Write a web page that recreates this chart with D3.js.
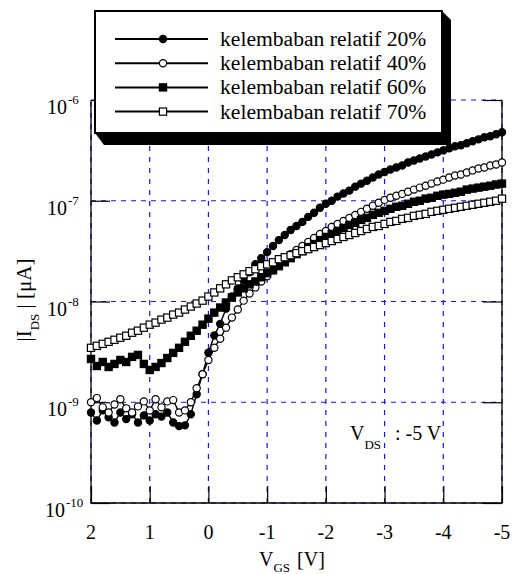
<!DOCTYPE html>
<html>
<head>
<meta charset="utf-8">
<script src="https://cdn.jsdelivr.net/npm/d3@7"></script>
<style>
  body { margin: 0; background: #fff; }
  svg text { font-family: "Liberation Serif", "Times New Roman", serif; }
</style>
</head>
<body>
<div class="chart"></div>
<script>
// gate voltage, 0.1 V steps from +2 to -5
var vgs = [2.0, 1.9, 1.8, 1.7, 1.6, 1.5, 1.4, 1.3, 1.2, 1.1, 1.0, 0.9, 0.8, 0.7, 0.6, 0.5, 0.4, 0.3, 0.2, 0.1,
    0.0, -0.1, -0.2, -0.3, -0.4, -0.5, -0.6, -0.7, -0.8, -0.9, -1.0, -1.1, -1.2, -1.3, -1.4, -1.5, -1.6, -1.7, -1.8, -1.9,
    -2.0, -2.1, -2.2, -2.3, -2.4, -2.5, -2.6, -2.7, -2.8, -2.9, -3.0, -3.1, -3.2, -3.3, -3.4, -3.5, -3.6, -3.7, -3.8, -3.9,
    -4.0, -4.1, -4.2, -4.3, -4.4, -4.5, -4.6, -4.7, -4.8, -4.9, -5.0];

var rh20 = [7.9e-10, 6.6e-10, 8.3e-10, 7.1e-10, 6.3e-10, 7.9e-10, 6.8e-10, 7.6e-10, 6.3e-10, 7.4e-10,
    6.6e-10, 7.6e-10, 7.2e-10, 7.9e-10, 6.3e-10, 5.8e-10, 5.9e-10, 7.6e-10, 1.2e-9, 1.9e-9,
    3.1e-9, 4.6e-9, 6.0e-9, 8.5e-9, 1.12e-8, 1.35e-8, 1.62e-8, 1.95e-8, 2.34e-8, 2.69e-8,
    3.09e-8, 3.55e-8, 4.07e-8, 4.57e-8, 5.13e-8, 5.62e-8, 6.17e-8, 6.92e-8, 7.59e-8, 8.51e-8,
    9.33e-8, 1.0e-7, 1.10e-7, 1.18e-7, 1.26e-7, 1.38e-7, 1.48e-7, 1.58e-7, 1.70e-7, 1.82e-7,
    1.93e-7, 2.04e-7, 2.14e-7, 2.24e-7, 2.40e-7, 2.51e-7, 2.63e-7, 2.75e-7, 2.88e-7, 3.02e-7,
    3.16e-7, 3.31e-7, 3.47e-7, 3.55e-7, 3.72e-7, 3.89e-7, 4.07e-7, 4.27e-7, 4.37e-7, 4.57e-7, 4.79e-7];

var rh40 = [1.0e-9, 1.10e-9, 8.9e-10, 7.9e-10, 9.5e-10, 1.07e-9, 8.7e-10, 7.9e-10, 9.1e-10, 1.02e-9,
    8.3e-10, 1.07e-9, 8.9e-10, 1.02e-9, 1.05e-9, 7.9e-10, 8.3e-10, 1.0e-9, 1.38e-9, 1.9e-9,
    2.63e-9, 3.47e-9, 4.27e-9, 5.50e-9, 6.92e-9, 8.32e-9, 1.02e-8, 1.20e-8, 1.38e-8, 1.58e-8,
    1.78e-8, 2.04e-8, 2.34e-8, 2.63e-8, 2.95e-8, 3.24e-8, 3.55e-8, 3.89e-8, 4.27e-8, 4.68e-8,
    5.01e-8, 5.50e-8, 5.89e-8, 6.31e-8, 6.76e-8, 7.24e-8, 7.76e-8, 8.32e-8, 8.91e-8, 9.55e-8,
    1.02e-7, 1.07e-7, 1.12e-7, 1.17e-7, 1.23e-7, 1.29e-7, 1.35e-7, 1.41e-7, 1.48e-7, 1.55e-7,
    1.62e-7, 1.70e-7, 1.78e-7, 1.82e-7, 1.91e-7, 2.00e-7, 2.09e-7, 2.14e-7, 2.24e-7, 2.29e-7, 2.40e-7];

var rh60 = [2.69e-9, 2.29e-9, 2.51e-9, 2.24e-9, 2.40e-9, 2.63e-9, 2.51e-9, 2.82e-9, 2.95e-9, 2.40e-9,
    2.09e-9, 2.24e-9, 2.45e-9, 2.75e-9, 3.09e-9, 3.47e-9, 3.98e-9, 4.57e-9, 5.13e-9, 5.89e-9,
    6.76e-9, 7.76e-9, 8.71e-9, 9.77e-9, 1.10e-8, 1.23e-8, 1.35e-8, 1.48e-8, 1.58e-8, 1.74e-8,
    1.91e-8, 2.04e-8, 2.24e-8, 2.45e-8, 2.69e-8, 2.95e-8, 3.16e-8, 3.47e-8, 3.72e-8, 4.07e-8,
    4.37e-8, 4.68e-8, 5.01e-8, 5.37e-8, 5.75e-8, 6.03e-8, 6.46e-8, 6.76e-8, 7.24e-8, 7.59e-8,
    7.94e-8, 8.32e-8, 8.71e-8, 8.91e-8, 9.33e-8, 9.77e-8, 1.00e-7, 1.05e-7, 1.07e-7, 1.12e-7,
    1.15e-7, 1.17e-7, 1.20e-7, 1.23e-7, 1.29e-7, 1.32e-7, 1.35e-7, 1.38e-7, 1.41e-7, 1.45e-7, 1.48e-7];

var rh70 = [3.47e-9, 3.63e-9, 3.80e-9, 3.98e-9, 4.17e-9, 4.37e-9, 4.57e-9, 4.90e-9, 5.13e-9, 5.50e-9,
    5.89e-9, 6.17e-9, 6.61e-9, 6.92e-9, 7.41e-9, 7.76e-9, 8.32e-9, 8.91e-9, 9.55e-9, 1.02e-8,
    1.12e-8, 1.23e-8, 1.35e-8, 1.48e-8, 1.62e-8, 1.74e-8, 1.86e-8, 2.00e-8, 2.09e-8, 2.24e-8,
    2.34e-8, 2.45e-8, 2.63e-8, 2.75e-8, 2.88e-8, 3.02e-8, 3.16e-8, 3.31e-8, 3.47e-8, 3.63e-8,
    3.80e-8, 3.98e-8, 4.17e-8, 4.37e-8, 4.57e-8, 4.79e-8, 5.01e-8, 5.25e-8, 5.50e-8, 5.62e-8,
    5.89e-8, 6.17e-8, 6.31e-8, 6.61e-8, 6.76e-8, 7.08e-8, 7.24e-8, 7.41e-8, 7.76e-8, 7.94e-8,
    8.13e-8, 8.32e-8, 8.51e-8, 8.71e-8, 8.91e-8, 9.12e-8, 9.33e-8, 9.55e-8, 9.77e-8, 1.00e-7, 1.05e-7];

var seriesNames = ["kelembaban relatif 20%", "kelembaban relatif 40%", "kelembaban relatif 60%", "kelembaban relatif 70%"];
var xTicks = [2, 1, 0, -1, -2, -3, -4, -5];
var yTickExp = [-10, -9, -8, -7, -6];

var W = 514, H = 574;
var margin = { top: 100, right: 12, bottom: 71, left: 91 };

var x = d3.scaleLinear().domain([2, -5]).range([margin.left, W - margin.right]);
var y = d3.scaleLog().domain([1e-10, 1e-6]).range([H - margin.bottom, margin.top]);

var svg = d3.select(".chart").append("svg")
    .attr("width", W)
    .attr("height", H)
    .attr("font-family", "'Liberation Serif', 'Times New Roman', serif");

var x0 = x.range()[0], x1 = x.range()[1], y0 = y.range()[0], y1 = y.range()[1];
var grid = "#1515e6";

// blue dashed grid
svg.append("g").selectAll("line")
    .data(xTicks)
    .enter().append("line")
    .attr("x1", d => x(d)).attr("x2", d => x(d))
    .attr("y1", y0).attr("y2", y1)
    .attr("stroke", grid).attr("stroke-width", 1.2)
    .attr("stroke-dasharray", "5,6");

svg.append("g").selectAll("line")
    .data(yTickExp)
    .enter().append("line")
    .attr("x1", x0).attr("x2", x1)
    .attr("y1", d => y(Math.pow(10, d))).attr("y2", d => y(Math.pow(10, d)))
    .attr("stroke", grid).attr("stroke-width", 1.2)
    .attr("stroke-dasharray", "5,5");

// frame: left, right, bottom solid
svg.append("path")
    .attr("d", "M" + x0 + "," + y1 + "V" + y0 + "H" + x1 + "V" + y1)
    .attr("fill", "none").attr("stroke", "#000").attr("stroke-width", 1.3);

// inward ticks
var xAxis = d3.axisTop(x).tickValues(xTicks).tickSize(17).tickFormat("");
svg.append("g").attr("transform", "translate(0," + y0 + ")").call(xAxis)
    .call(g => g.select(".domain").remove())
    .selectAll("line").attr("stroke", "#000").attr("stroke-width", 1.2);

var yAxisL = d3.axisRight(y).tickValues(yTickExp.map(e => Math.pow(10, e))).tickSize(19).tickFormat("");
svg.append("g").attr("transform", "translate(" + x0 + ",0)").call(yAxisL)
    .call(g => g.select(".domain").remove())
    .selectAll("line").attr("stroke", "#000").attr("stroke-width", 1.2);

var yAxisR = d3.axisLeft(y).tickValues(yTickExp.map(e => Math.pow(10, e))).tickSize(19).tickFormat("");
svg.append("g").attr("transform", "translate(" + x1 + ",0)").call(yAxisR)
    .call(g => g.select(".domain").remove())
    .selectAll("line").attr("stroke", "#000").attr("stroke-width", 1.2);

// tick labels
svg.append("g").selectAll("text")
    .data(xTicks)
    .enter().append("text")
    .attr("x", d => x(d))
    .attr("y", y0 + 36)
    .attr("text-anchor", "middle")
    .attr("font-size", 20)
    .text(d => d);

var yl = svg.append("g").selectAll("text")
    .data(yTickExp)
    .enter().append("text")
    .attr("x", d => d === -10 ? 45 : 47)
    .attr("y", d => y(Math.pow(10, d)) + 14)
    .attr("font-size", 20);
yl.append("tspan").text("10");
yl.append("tspan").attr("dx", 1).attr("dy", -10).attr("font-size", 13).text(d => d);

// series
var series = [
    { name: seriesNames[0], values: rh20, shape: "circle", fill: "#000" },
    { name: seriesNames[1], values: rh40, shape: "circle", fill: "#fff" },
    { name: seriesNames[2], values: rh60, shape: "square", fill: "#000" },
    { name: seriesNames[3], values: rh70, shape: "square", fill: "#fff" }
];

var line = d3.line()
    .x(d => x(d.v))
    .y(d => y(d.i));

function marker(g, s) {
    if (s.shape === "circle") {
        g.append("circle").attr("r", 3.6)
            .attr("fill", s.fill).attr("stroke", "#000").attr("stroke-width", 1.2);
    } else {
        g.append("rect").attr("x", -3.6).attr("y", -3.6).attr("width", 7.2).attr("height", 7.2)
            .attr("fill", s.fill).attr("stroke", "#000").attr("stroke-width", 1.2);
    }
}

series.forEach(function (s) {
    var pts = vgs.map((v, k) => ({ v: v, i: s.values[k] }));
    var g = svg.append("g");
    g.append("path")
        .attr("d", line(pts))
        .attr("fill", "none").attr("stroke", "#000").attr("stroke-width", 1.4);
    g.selectAll(".m")
        .data(pts)
        .enter().append("g")
        .attr("transform", d => "translate(" + x(d.v) + "," + y(d.i) + ")")
        .each(function () { marker(d3.select(this), s); });
});

// legend with drop shadow
var lx0 = 95, ly0 = 11, lx1 = 442, ly1 = 133;
svg.append("polygon")
    .attr("points", [[lx1, ly0], [lx1 + 9, ly0 + 9], [lx1 + 9, ly1 + 12], [lx0 + 9, ly1 + 12], [lx0, ly1]].join(" "))
    .attr("fill", "#000");
svg.append("rect")
    .attr("x", lx0).attr("y", ly0).attr("width", lx1 - lx0).attr("height", ly1 - ly0)
    .attr("fill", "#fff").attr("stroke", "#000").attr("stroke-width", 2);

var legend = svg.selectAll(".legend")
    .data(series)
    .enter().append("g")
    .attr("class", "legend")
    .attr("transform", (d, k) => "translate(0," + (39 + k * 24.2) + ")");

legend.append("line")
    .attr("x1", 115).attr("x2", 208)
    .attr("stroke", "#000").attr("stroke-width", 2);
legend.append("g")
    .attr("transform", "translate(163,0)")
    .each(function (d) { marker(d3.select(this), d); });
legend.append("text")
    .attr("x", 220).attr("y", 7)
    .attr("font-size", 21.6)
    .text(d => d.name);

// V_DS note
var note = svg.append("text").attr("x", 350).attr("y", 440).attr("font-size", 20);
note.append("tspan").text("V");
note.append("tspan").attr("dy", 9).attr("font-size", 13).text("DS");
svg.append("text").attr("x", 395).attr("y", 440).attr("font-size", 20).text(": -5 V");

// axis titles
var xt = svg.append("text").attr("x", 259).attr("y", 566).attr("font-size", 20);
xt.append("tspan").text("V");
xt.append("tspan").attr("dy", 6).attr("font-size", 13).text("GS");
xt.append("tspan").attr("dx", 2).attr("dy", -6).text(" [V]");

var yt = svg.append("text")
    .attr("transform", "translate(31,300) rotate(-90)")
    .attr("text-anchor", "middle")
    .attr("font-size", 21);
yt.append("tspan").text("|I");
yt.append("tspan").attr("dy", 8).attr("font-size", 13).text("DS");
yt.append("tspan").attr("dy", -8).text(" | [\u03bcA]");
</script>
</body>
</html>
